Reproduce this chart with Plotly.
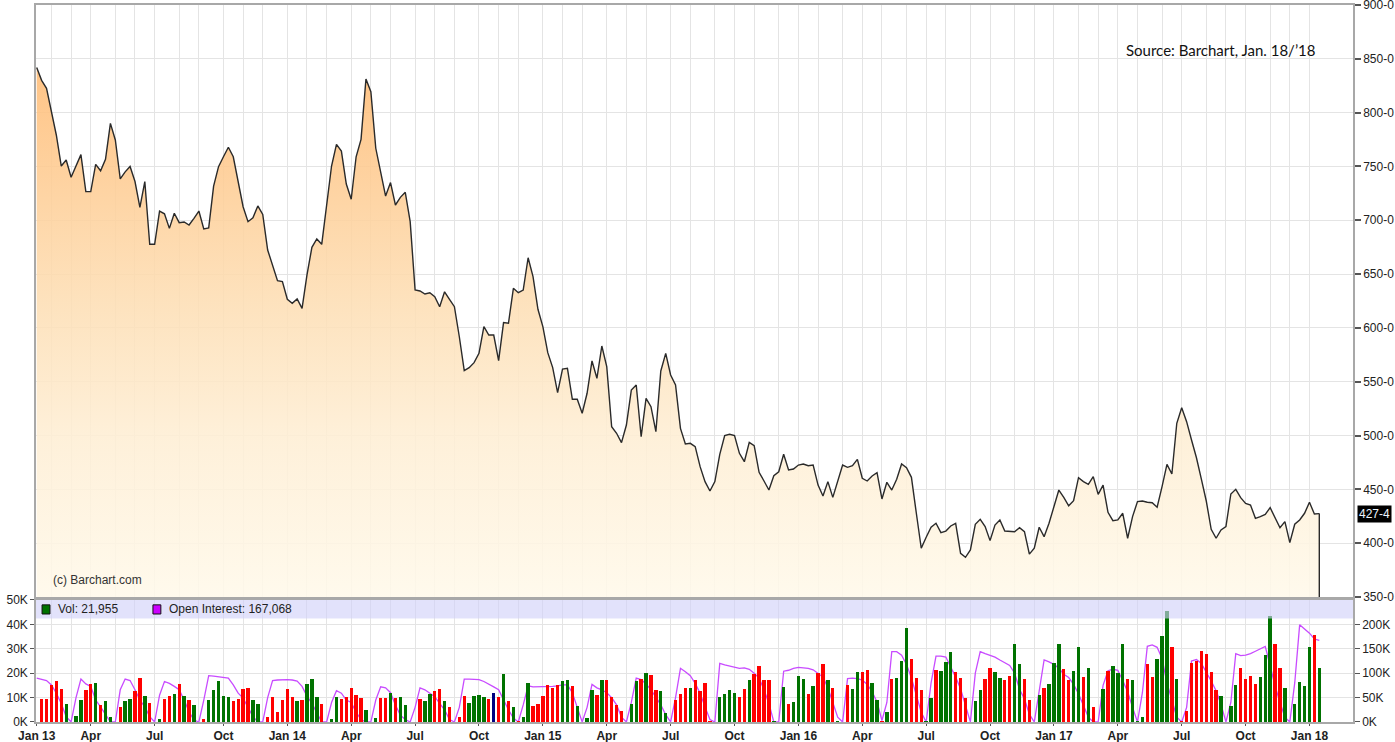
import plotly.graph_objects as go
import pandas as pd

# ---------------- data (weekly) ----------------
start_date = "2013-01-14"

price = [
    842, 830, 822.6, 802, 779, 750.4, 756, 740, 751, 761,
    726.6, 726.6, 752, 746, 756.6, 790, 774.6, 738.4, 745, 750,
    736, 712, 736, 677.7, 677.7, 708.6, 706, 692.5, 706.5, 697.8,
    698.4, 695.6, 701.8, 708.6, 692, 693, 731.8, 749.8, 759, 767.8,
    759, 734.3, 712.6, 698.7, 702.4, 713.3, 705.5, 672.4, 657, 643.9,
    643, 626.6, 622.8, 627, 618.2, 649.2, 674.9, 682.6, 677.7, 712.6,
    750.4, 770.6, 764.3, 733.7, 719.5, 759, 775.2, 831.3, 819.5, 766.9,
    743.6, 722.5, 735, 714.2, 721.3, 726, 698.7, 635.2, 634.3, 631.5,
    632.7, 629, 619.7, 633.6, 626.6, 619.7, 591.8, 560.3, 563.1, 567.7,
    576.4, 601.2, 593.4, 593.4, 569.6, 604.9, 604.3, 636.8, 632.7, 635.2,
    665.2, 647.6, 617.3, 601.2, 577, 563.1, 539.8, 561.8, 562.5, 533.7,
    533.7, 520.7, 539.3, 569.3, 553.2, 583.2, 564, 508.2, 502.1, 493.4,
    509.8, 542.3, 547, 498.9, 534.6, 526.8, 503.6, 560, 576.4, 556.3,
    547, 506.7, 492.2, 492.8, 489.7, 471.1, 457.2, 448.5, 457.2, 482.6,
    499.9, 501.2, 499.9, 483.5, 475.7, 493.7, 490.6, 465.9, 457.8, 449.4,
    462.7, 466.4, 482.6, 468, 468.9, 472.6, 473.6, 472, 472.6, 454,
    443.9, 457.2, 442.6, 457.8, 472.6, 470.5, 472, 477.9, 460.3, 457.8,
    462.4, 465.5, 441.1, 456.6, 449.4, 459.4, 473.6, 470.2, 461.2, 427.8,
    395.3, 405.5, 414.8, 418.5, 409.8, 411.3, 416, 418.5, 390.6, 386.9,
    393.7, 417.6, 422.2, 415.4, 402.4, 416.9, 421.6, 411.3, 411.3, 410.7,
    414.4, 410.7, 389.9, 395.3, 414.8, 406.1, 418.5, 434, 449.4, 442.6,
    434.8, 439.5, 460.9, 457.2, 454.7, 461.8, 445.4, 454, 428.7, 420.9,
    421.6, 427.8, 404.6, 424.7, 438.7, 439.2, 438, 437.6, 433.4, 452.5,
    473.3, 464.3, 511.4, 525.9, 512.9, 495.9, 479.4, 459.6, 439.2, 412.9,
    404.6, 412.3, 415.4, 445.7, 450.1, 442.3, 437, 435.5, 423.1, 424.7,
    426.8, 433, 423.1, 414.4, 420, 400.5, 417.6, 421.6, 427.8, 438,
    427.1, 427.5,
]

# weekly volume (thousands of contracts)
volume_k = [
    0, 9.5, 9.6, 15, 16.7, 13.6, 7.5, 0, 2.5, 9.2,
    13, 15.6, 16, 7, 8.6, 2, 0, 6, 8.6, 9.6,
    12.9, 18, 10.5, 8, 0, 1.4, 9.6, 10.7, 11.5, 15.5,
    10.5, 9, 7, 0, 1.4, 9, 13, 16.7, 10.7, 10.1,
    8.6, 9.6, 13.4, 14.1, 9, 7.5, 0, 2, 10.1, 4,
    9, 13.6, 10.1, 8.6, 9, 15.6, 17.7, 10.1, 7.5, 0,
    1.4, 10.1, 9.6, 10.1, 14, 11, 10, 5, 0, 1.5,
    10, 10, 12, 10, 10.4, 7, 0, 0, 9.5, 8.6,
    11.5, 12.6, 13.6, 8.6, 6, 0, 2, 10.5, 8, 10.5,
    11, 10.1, 9.6, 12, 10.1, 19.6, 8.6, 6, 0.5, 2,
    16, 6.6, 7.5, 10.5, 15, 14, 15, 16.7, 17.1, 14.6,
    6.6, 0, 1.5, 13, 11, 17.1, 17.1, 10.1, 7, 4.5,
    0, 7.5, 16.7, 17.7, 20.1, 19.2, 13, 12.6, 3.6, 0,
    9, 11.5, 14, 14, 17.2, 12.6, 16, 0.3, 0, 10.1,
    11.5, 13, 12, 10.1, 13.6, 17.1, 19.6, 23.1, 17.1, 17.1,
    0.5, 0, 14.3, 7.3, 8.3, 18.9, 17.8, 11.6, 14.7, 19.9,
    23.8, 17.4, 14.1, 0.5, 0, 15.3, 13.7, 20.3, 20.3, 21.5,
    16, 9.2, 0.5, 4.1, 17.8, 18.2, 24.9, 38.6, 25.8, 18.2,
    13.3, 0.4, 9.9, 21.5, 21, 24.4, 28.5, 20.3, 18.2, 9.9,
    0, 8.6, 13.3, 17.8, 22.3, 20.3, 18, 17.2, 18.8, 32,
    23.7, 17.5, 9, 0, 11, 14, 15.5, 24.2, 32, 21.6,
    17.3, 21.1, 30.7, 18.6, 22, 6, 0, 13.6, 21, 23,
    20.1, 32, 17.5, 17.3, 0.3, 2, 23.7, 18.6, 25.8, 35.3,
    45.5, 30.7, 17.5, 0.3, 4.5, 24.2, 25.2, 29.3, 27.8, 20.7,
    13.1, 10.7, 0, 6.6, 15.2, 22.2, 17.7, 19, 15.6, 18.6,
    27.3, 43.6, 32, 22.2, 14.1, 0, 7.5, 16.6, 14.7, 30.7,
    35.8, 21.955,
]

# bar colour per week: R = down, G = up, N = unchanged
vol_dir = (
    "RRRRRRGRGG" "RRGRGGRRGG" "RRGRRGRRGR" "GRGRRGGGGG"
    "RRRRGGRRRR" "RRRGRGGGRR" "GGRRRRRGRG" "RRGRGGGRRG"
    "GRRGRRRRGG" "GGRNRGRGRG" "GRRRRRRGGR" "GRGGRGRRRR"
    "RGGRGRRGGR" "RRRGRRRRRG" "GGGRRGRRRR" "GRGRGGGRGR"
    "RGRGRRGGRR" "GGRGRGGGRR" "RGGRGGGRRR" "RGGRRGGRRG"
    "GRRRGRGGGR" "RGGRGRRGRG" "GGRGGGRRGG" "GRGRRRRRRR"
    "RGRGGRRRRG" "GGRRGRGGGG"
    "RG"
)

# weekly open interest (thousands of contracts)
oi_k = [
    90, 88, 85, 76, 59, 38, 11, 0, 50, 88,
    78, 73, 45, 31, 14, 0, 0, 66, 88, 85,
    66, 45, 31, 11, 0, 55, 83, 79, 73, 66,
    45, 21, 4, 0, 45, 95, 94, 93, 92, 90,
    76, 59, 49, 31, 11, 0, 0, 50, 85, 86,
    87, 87, 86, 84, 73, 53, 38, 18, 0, 0,
    40, 64, 59, 45, 40, 20, 5, 0, 0, 45,
    72, 70, 60, 35, 14, 5, 0, 30, 70, 66,
    59, 52, 38, 25, 5, 0, 30, 88, 88, 88,
    87, 83, 78, 72, 66, 45, 25, 8, 0, 35,
    74, 72, 72, 72, 72, 73, 74, 76, 76, 60,
    30, 0, 30, 77, 70, 66, 60, 50, 35, 10,
    0, 40, 90, 87, 78, 66, 51, 35, 15, 0,
    50, 110, 103, 95, 79, 59, 31, 5, 0, 120,
    117, 115, 112, 110, 111, 108, 100, 90, 66, 38,
    0, 0, 104, 106, 110, 112, 111, 110, 107, 100,
    92, 70, 40, 10, 0, 89, 90, 89, 86, 77,
    62, 41, 3, 40, 144, 144, 137, 118, 90, 55,
    20, 0, 80, 135, 135, 133, 113, 92, 68, 34,
    0, 100, 144, 140, 137, 133, 127, 122, 116, 100,
    67, 47, 16, 0, 60, 127, 123, 118, 110, 98,
    91, 77, 58, 35, 10, 0, 0, 75, 105, 108,
    106, 85, 62, 30, 0, 60, 155, 158, 153, 130,
    80, 45, 10, 0, 30, 125, 128, 120, 103, 84,
    64, 36, 0, 40, 140, 136, 137, 140, 145, 150,
    155, 115, 74, 40, 10, 0, 80, 199, 190, 182,
    170, 167.068,
]

price_ticks = [350, 400, 450, 500, 550, 600, 650, 700, 750, 800, 850, 900]
vol_ticks_k = [0, 10, 20, 30, 40, 50]
oi_ticks_k = [0, 50, 100, 150, 200]
source_text = "Source: Barchart, Jan. 18/\u201918"
copyright_text = "(c) Barchart.com"

assert len(price) == len(volume_k) == len(vol_dir) == len(oi_k), (
    len(price), len(volume_k), len(vol_dir), len(oi_k))

# ---------------- derived ----------------
dates = pd.date_range(start_date, periods=len(price), freq="7D")
dir_colors = {"R": "#FF0000", "G": "#007200", "N": "#000080"}
bar_colors = [dir_colors[c] for c in vol_dir]
volume = [v * 1000 for v in volume_k]
oi = [v * 1000 for v in oi_k]

# first weekly bar of each month -> grid lines; quarterly -> labels
month_first = []
seen = set()
for d in dates:
    key = (d.year, d.month)
    if key not in seen:
        seen.add(key)
        month_first.append(d)
quarter_vals = [d for d in month_first if d.month in (1, 4, 7, 10)]
quarter_text = ["<b>" + (d.strftime("%b %y") if d.month == 1 else d.strftime("%b")) + "</b>"
                for d in quarter_vals]
other_months = [d for d in month_first if d.month not in (1, 4, 7, 10)]

last_p = price[-1]
last_label = f"{int(last_p)}-{int(round((last_p - int(last_p)) * 8))}"

GRID = "#E4E4E4"
AXLINE = "#A8A8A8"
FONT = "Liberation Sans, Arial, sans-serif"
TICKFONT = dict(size=12, color="#222222")

fig = go.Figure()

# price area
fig.add_trace(go.Scatter(
    x=dates, y=price, mode="lines", xaxis="x", yaxis="y",
    line=dict(color="#2A2A2A", width=1.4),
    fill="tozeroy",
    fillgradient=dict(
        type="vertical", start=price_ticks[0], stop=850,
        colorscale=[[0, "rgba(255,249,234,0.88)"], [0.3, "rgba(254,238,212,0.88)"],
                    [0.55, "rgba(253,222,180,0.88)"], [1, "rgba(255,188,118,0.9)"]],
    ),
    hoverinfo="skip",
))
# closing edge of the area at the last week
fig.add_trace(go.Scatter(
    x=[dates[-1], dates[-1]], y=[price[-1], price_ticks[0]], mode="lines",
    xaxis="x", yaxis="y", line=dict(color="#2A2A2A", width=1.4), hoverinfo="skip",
))

# open interest (base axis, drawn behind bars)
fig.add_trace(go.Scatter(
    x=dates, y=oi, mode="lines", xaxis="x2", yaxis="y2",
    line=dict(color="#C84BFF", width=1.3), hoverinfo="skip",
))
# volume bars (overlay axis, drawn above)
fig.add_trace(go.Bar(
    x=dates, y=volume, xaxis="x2", yaxis="y3",
    marker=dict(color=bar_colors, line=dict(width=0)),
    width=4.8 * 86400000, hoverinfo="skip",
))

x_range = ["2013-01-13", "2018-03-04"]
P_BOTTOM = 0.1743
V_TOP = 0.1702

fig.update_layout(
    width=1395, height=742,
    margin=dict(l=36, r=42, t=5, b=20, autoexpand=False),
    paper_bgcolor="white", plot_bgcolor="white",
    showlegend=False,
    font=dict(family=FONT, size=12, color="#222222"),
    bargap=0,
    xaxis=dict(
        domain=[0, 1], anchor="y", range=x_range, type="date", automargin=False,
        tickmode="array", tickvals=quarter_vals, ticktext=[""] * len(quarter_vals),
        ticks="", showticklabels=False,
        showgrid=True, gridcolor=GRID, gridwidth=1,
        minor=dict(tickmode="array", tickvals=other_months, showgrid=True,
                   gridcolor=GRID, gridwidth=1, ticks=""),
        showline=True, linecolor=AXLINE, linewidth=1.5, mirror=True,
        zeroline=False,
    ),
    yaxis=dict(
        domain=[P_BOTTOM, 1], anchor="x", side="right", automargin=False,
        range=[price_ticks[0], price_ticks[-1]],
        tickmode="array", tickvals=price_ticks, ticktext=[f"{v}-0" for v in price_ticks],
        ticks="outside", ticklen=6, tickcolor="#555555", tickwidth=1.5,
        ticklabeloverflow="allow",
        showgrid=True, gridcolor=GRID, gridwidth=1,
        showline=True, linecolor=AXLINE, linewidth=1.5, mirror=True,
        zeroline=False, tickfont=TICKFONT,
    ),
    xaxis2=dict(
        domain=[0, 1], anchor="y2", range=x_range, type="date", matches="x",
        automargin=False,
        tickmode="array", tickvals=quarter_vals, ticktext=quarter_text,
        ticks="outside", ticklen=2, tickcolor="#555555",
        tickfont=TICKFONT,
        showgrid=True, gridcolor=GRID, gridwidth=1,
        minor=dict(tickmode="array", tickvals=other_months, showgrid=True,
                   gridcolor=GRID, gridwidth=1, ticks=""),
        showline=True, linecolor=AXLINE, linewidth=1.5, mirror=True,
        zeroline=False,
    ),
    yaxis2=dict(
        domain=[0, V_TOP], anchor="x2", side="right", range=[0, 250000],
        automargin=False,
        tickmode="array", tickvals=[v * 1000 for v in oi_ticks_k],
        ticktext=[f"{v}K" for v in oi_ticks_k],
        ticks="outside", ticklen=5, tickcolor="#555555",
        showgrid=True, gridcolor=GRID, gridwidth=1,
        showline=True, linecolor=AXLINE, linewidth=1.5,
        zeroline=False, tickfont=TICKFONT,
    ),
    yaxis3=dict(
        overlaying="y2", anchor="x2", side="left", range=[0, 50000],
        automargin=False,
        tickmode="array", tickvals=[v * 1000 for v in vol_ticks_k],
        ticktext=[f"{v}K" for v in vol_ticks_k],
        ticks="outside", ticklen=4, tickcolor="#555555",
        showgrid=False, showline=True, linecolor=AXLINE, linewidth=1.5,
        zeroline=False, tickfont=TICKFONT,
    ),
    shapes=[
        # lavender legend band over the volume panel
        dict(type="rect", xref="x2 domain", yref="y3", x0=0, x1=1, y0=42400, y1=50000,
             fillcolor="rgba(208,208,248,0.62)", line=dict(width=0), layer="above"),
        # legend swatches
        dict(type="rect", xref="x2 domain", yref="y2 domain",
             x0=0.0046, x1=0.0106, y0=0.885, y1=0.96,
             fillcolor="#007200", line=dict(color="#111111", width=1), layer="above"),
        dict(type="rect", xref="x2 domain", yref="y2 domain",
             x0=0.0888, x1=0.0948, y0=0.885, y1=0.96,
             fillcolor="#CC00FF", line=dict(color="#111111", width=1), layer="above"),
    ],
    annotations=[
        dict(text=f"Vol: {volume_k[-1] * 1000:,.0f}", xref="x2 domain", yref="y2 domain",
             x=0.0152, y=0.922, xanchor="left", yanchor="middle", showarrow=False,
             font=dict(size=12, color="#222222")),
        dict(text=f"Open Interest: {oi_k[-1] * 1000:,.0f}", xref="x2 domain", yref="y2 domain",
             x=0.0995, y=0.922, xanchor="left", yanchor="middle", showarrow=False,
             font=dict(size=12, color="#222222")),
        dict(text=source_text, xref="x domain", yref="y domain", x=0.9734, y=0.924,
             xanchor="right", yanchor="middle", showarrow=False,
             font=dict(family="Lato, Open Sans, sans-serif", size=15, color="#111111")),
        dict(text=copyright_text, xref="x domain", yref="y domain", x=0.0115, y=0.0287,
             xanchor="left", yanchor="middle", showarrow=False,
             font=dict(size=12, color="#333333")),
        dict(text=last_label, xref="x domain", yref="y", x=1, y=last_p,
             xanchor="left", yanchor="middle", xshift=4, showarrow=False,
             bgcolor="#000000", borderpad=1,
             font=dict(size=12, color="#EAF4FF")),
    ],
)

fig.write_html(
    "out.html",
    config={"displayModeBar": False},
    post_script="document.body.style.margin='0';document.body.style.overflow='hidden';",
)
